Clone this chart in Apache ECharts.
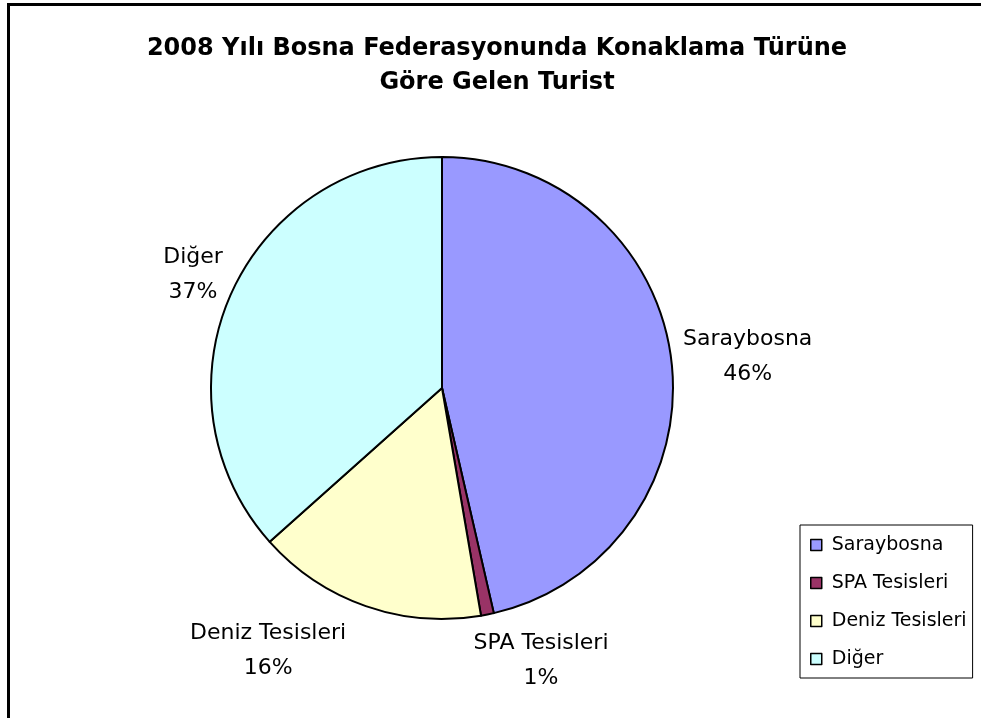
<!DOCTYPE html>
<html>
<head>
<meta charset="utf-8">
<script src="https://cdn.jsdelivr.net/npm/echarts@6/dist/echarts.min.js"></script>
<style>
  html, body { margin: 0; padding: 0; background: #fff; }
  #chart { width: 981px; height: 718px; }
</style>
</head>
<body>
<div id="chart"></div>
<script>
var categories = ['Saraybosna', 'SPA Tesisleri', 'Deniz Tesisleri', 'Diğer'];
var values = [46.4, 0.9, 16.1, 36.6];
var colors = ['#9999FF', '#993366', '#FFFFCC', '#CCFFFF'];
var titleText = '2008 Yılı Bosna Federasyonunda Konaklama Türüne\nGöre Gelen Turist';

var pieCenter = [442, 388];
var pieRadius = 231;
var labelGap = 12;
// horizontal nudges the original chart had on its bottom labels
var labelNudge = [0, 38, -68, 0];

// mid angle of every slice, measured clockwise from 12 o'clock
var total = values.reduce(function (a, b) { return a + b; }, 0);
var midAngles = [];
var acc = 0;
values.forEach(function (v) {
    midAngles.push((acc + v / 2) / total * Math.PI * 2);
    acc += v;
});

var chart = echarts.init(document.getElementById('chart'));

var pieData = categories.map(function (name, i) {
    return { name: name, value: values[i], itemStyle: { color: colors[i] } };
});

var font = '"DejaVu Sans", "Liberation Sans", Arial, sans-serif';

chart.setOption({
    animation: false,
    textStyle: { fontFamily: font, color: '#000' },
    graphic: [{
        // outer chart frame (right and bottom run off the picture)
        type: 'rect',
        shape: { x: 8.5, y: 4.5, width: 1000, height: 800 },
        style: { fill: 'none', stroke: '#000', lineWidth: 3 }
    }],
    title: {
        text: titleText,
        left: 492,
        textAlign: 'center',
        top: 27,
        textStyle: { fontFamily: font, fontSize: 24, fontWeight: 'bold', lineHeight: 34, color: '#000' }
    },
    legend: {
        orient: 'vertical',
        left: 800,
        top: 525,
        padding: [10, 6, 9, 10],
        itemGap: 18,
        itemWidth: 11,
        itemHeight: 11,
        icon: 'rect',
        borderColor: '#000',
        borderWidth: 1,
        textStyle: { fontFamily: font, fontSize: 19, lineHeight: 20, color: '#000', padding: [0, 0, 0, 5] },
        itemStyle: { borderColor: '#000', borderWidth: 1.5 },
        data: categories
    },
    series: [{
        type: 'pie',
        center: pieCenter,
        radius: pieRadius,
        startAngle: 90,
        clockwise: true,
        avoidLabelOverlap: false,
        itemStyle: { borderColor: '#000', borderWidth: 2 },
        label: {
            show: true,
            position: 'outside',
            fontFamily: font,
            fontSize: 22,
            lineHeight: 35,
            color: '#000',
            formatter: function (p) {
                return p.name + '\n' + Math.round(p.percent) + '%';
            }
        },
        labelLine: { show: false },
        labelLayout: function (p) {
            var a = midAngles[p.dataIndex];
            var dx = Math.sin(a), dy = -Math.cos(a);
            var w = p.labelRect.width, h = p.labelRect.height;
            var d = pieRadius + labelGap;
            return {
                x: pieCenter[0] + d * dx + dx * w / 2 + labelNudge[p.dataIndex],
                y: pieCenter[1] + d * dy + dy * h / 2,
                align: 'center',
                verticalAlign: 'middle'
            };
        },
        emphasis: { disabled: true },
        data: pieData
    }]
});
</script>
</body>
</html>
